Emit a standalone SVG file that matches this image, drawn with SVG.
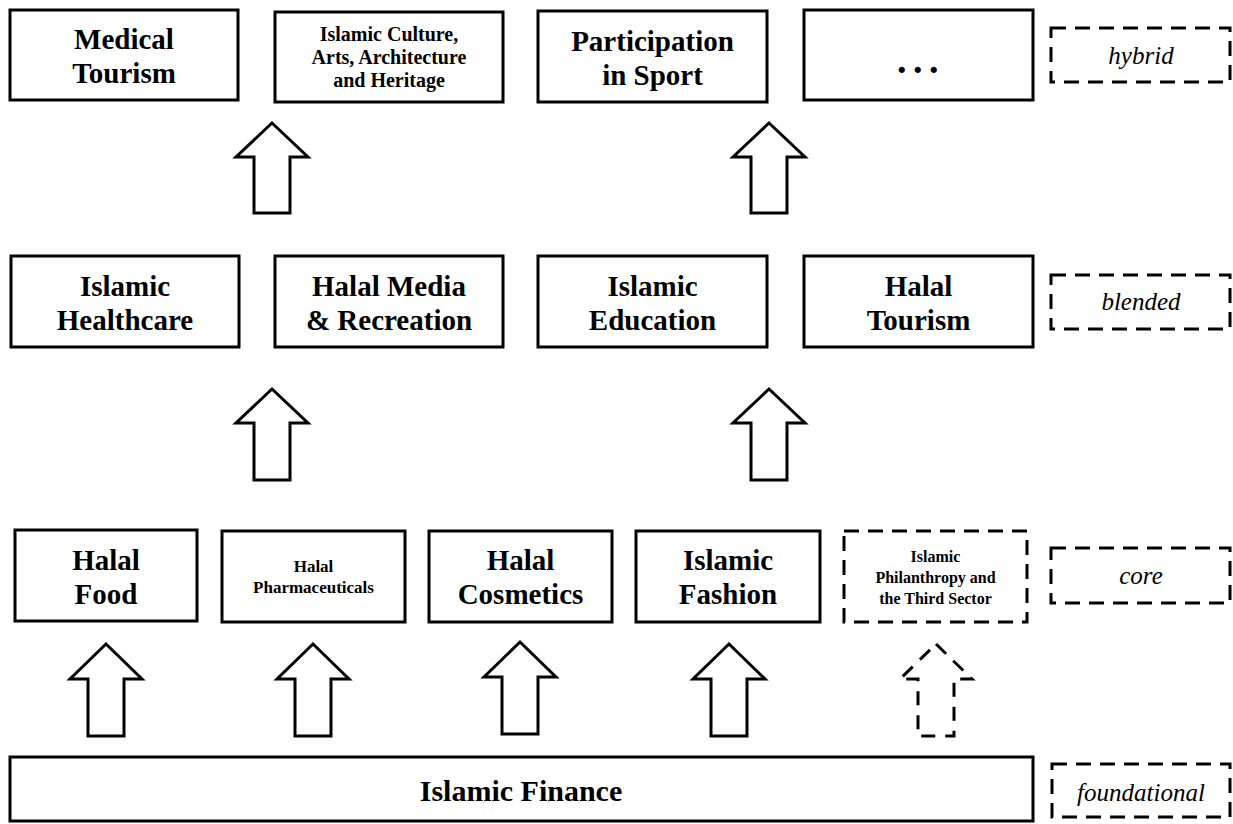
<svg xmlns="http://www.w3.org/2000/svg" width="1233" height="824" viewBox="0 0 1233 824">
<style>
.box{fill:#fff;stroke:#000;stroke-width:3}
.dbox{fill:#fff;stroke:#000;stroke-width:3;stroke-dasharray:15 9}
.arr{fill:#fff;stroke:#000;stroke-width:3;stroke-linejoin:miter}
.darr{fill:#fff;stroke:#000;stroke-width:3;stroke-dasharray:14 10}
.t{font-family:"Liberation Serif","Times New Roman",serif;font-weight:bold;text-anchor:middle;fill:#000}
.big{font-size:29px}
.lab{font-family:"Liberation Serif","Times New Roman",serif;font-style:italic;font-size:25px;text-anchor:middle;fill:#000}
</style>
<defs>
<polygon id="arrow" points="0,0 36,34 18,34 18,90 -18,90 -18,34 -36,34 0,0"/>
</defs>
<rect width="1233" height="824" fill="#fff"/>

<g id="connectors">
<use href="#arrow" class="arr" x="272" y="123"/>
<use href="#arrow" class="arr" x="769" y="123"/>
<polygon class="arr" points="272,389 308,423 290,423 290,480 254,480 254,423 236,423"/>
<polygon class="arr" points="769,389 805,423 787,423 787,480 751,480 751,423 733,423"/>
<polygon class="arr" points="106,644 142,679 124,679 124,736 88,736 88,679 70,679"/>
<polygon class="arr" points="313,644 349,679 331,679 331,736 295,736 295,679 277,679"/>
<polygon class="arr" points="520,642 556,677 538,677 538,734 502,734 502,677 484,677"/>
<polygon class="arr" points="729,644 765,679 747,679 747,736 711,736 711,679 693,679"/>
<polygon class="darr" points="936,644 972,679 954,679 954,736 918,736 918,679 900,679"/>
</g>

<g id="medical-tourism">
<rect class="box" x="10" y="10" width="228" height="90"/>
<text class="t big" x="124" y="49">Medical</text>
<text class="t big" x="124" y="83">Tourism</text>
</g>
<g id="islamic-culture">
<rect class="box" x="275" y="12" width="228" height="90"/>
<text class="t" font-size="20" x="389" y="41">Islamic Culture,</text>
<text class="t" font-size="20" x="389" y="64">Arts, Architecture</text>
<text class="t" font-size="20" x="389" y="87">and Heritage</text>
</g>
<g id="participation-sport">
<rect class="box" x="538" y="11" width="229" height="91"/>
<text class="t big" x="652.5" y="51">Participation</text>
<text class="t big" x="652.5" y="85">in Sport</text>
</g>
<g id="ellipsis">
<rect class="box" x="804" y="10" width="229" height="90"/>
<text class="t" font-size="38" x="921" y="73" letter-spacing="6.5">...</text>
</g>
<g id="hybrid">
<rect class="dbox" x="1051" y="28" width="179" height="54"/>
<text class="lab" x="1141" y="64">hybrid</text>
</g>

<g id="islamic-healthcare">
<rect class="box" x="11" y="256" width="228" height="91"/>
<text class="t big" x="125" y="296">Islamic</text>
<text class="t big" x="125" y="330">Healthcare</text>
</g>
<g id="halal-media">
<rect class="box" x="275" y="256" width="228" height="91"/>
<text class="t big" x="389" y="296">Halal Media</text>
<text class="t big" x="389" y="330">&amp; Recreation</text>
</g>
<g id="islamic-education">
<rect class="box" x="538" y="256" width="229" height="91"/>
<text class="t big" x="652.5" y="296">Islamic</text>
<text class="t big" x="652.5" y="330">Education</text>
</g>
<g id="halal-tourism">
<rect class="box" x="804" y="256" width="229" height="91"/>
<text class="t big" x="918.5" y="296">Halal</text>
<text class="t big" x="918.5" y="330">Tourism</text>
</g>
<g id="blended">
<rect class="dbox" x="1051" y="275" width="179" height="54"/>
<text class="lab" x="1141" y="310">blended</text>
</g>

<g id="halal-food">
<rect class="box" x="15" y="530" width="182" height="91"/>
<text class="t big" x="106" y="570">Halal</text>
<text class="t big" x="106" y="604">Food</text>
</g>
<g id="halal-pharmaceuticals">
<rect class="box" x="222" y="531" width="183" height="91"/>
<text class="t" font-size="17" x="313.5" y="572">Halal</text>
<text class="t" font-size="17" x="313.5" y="593">Pharmaceuticals</text>
</g>
<g id="halal-cosmetics">
<rect class="box" x="429" y="531" width="183" height="91"/>
<text class="t big" x="520.5" y="570">Halal</text>
<text class="t big" x="520.5" y="604">Cosmetics</text>
</g>
<g id="islamic-fashion">
<rect class="box" x="636" y="531" width="184" height="91"/>
<text class="t big" x="728" y="570">Islamic</text>
<text class="t big" x="728" y="604">Fashion</text>
</g>
<g id="islamic-philanthropy">
<rect class="dbox" x="844" y="531" width="183" height="91"/>
<text class="t" font-size="16" x="935.5" y="562">Islamic</text>
<text class="t" font-size="16" x="935.5" y="583">Philanthropy and</text>
<text class="t" font-size="16" x="935.5" y="604">the Third Sector</text>
</g>
<g id="core">
<rect class="dbox" x="1051" y="548" width="179" height="55"/>
<text class="lab" x="1141" y="584">core</text>
</g>

<g id="islamic-finance">
<rect class="box" x="10" y="757" width="1023" height="64"/>
<text class="t" font-size="30" x="521" y="801">Islamic Finance</text>
</g>
<g id="foundational">
<rect class="dbox" x="1052" y="764" width="178" height="53"/>
<text class="lab" x="1141" y="801">foundational</text>
</g>
</svg>
